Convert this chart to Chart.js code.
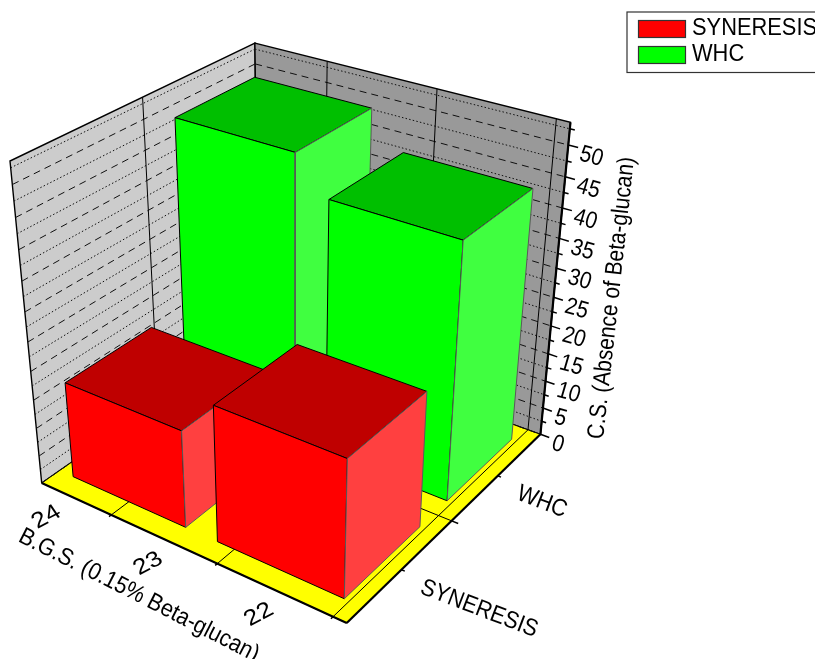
<!DOCTYPE html>
<html>
<head>
<meta charset="utf-8">
<title>C.S. bars</title>
<script src="https://cdn.jsdelivr.net/npm/chart.js@4"></script>
<style>
    html, body { margin: 0; padding: 0; background: #fff; overflow: hidden; }
    canvas { display: block; }
</style>
</head>
<body>
<canvas id="barChart" width="815" height="659"></canvas>
<script>
const categoryLabels = ['24', '23', '22'];
const seriesLabels = ['SYNERESIS', 'WHC'];
const syneresisValues = [17, 23.5];
const whcValues = [49.6, 43.8];
const zTicks = [0, 5, 10, 15, 20, 25, 30, 35, 40, 45, 50];
const zMinorTicks = [2.5, 7.5, 12.5, 17.5, 22.5, 27.5, 32.5, 37.5, 42.5, 47.5, 52.5];
const zMax = 53.5;

const FONT = '24px "Liberation Sans", Arial, sans-serif';

// camera: unit box (u along B.G.S., v along series, w up) to page pixels
function project(u, v, w) {
    const d = 1 - 0.114 * u + 0.16 * v - 0.1126 * w;
    return {
        x: (41.7 + 265.5 * u + 258.1 * v - 32.83 * w) / d,
        y: (483 + 69 * u - 97.7 * v - 340.13 * w) / d
    };
}

const datasets = [];

function polygon(corners, fillColor, edgeColor, width) {
    const pts = corners.map(c => project(c[0], c[1], c[2]));
    pts.push(pts[0]);
    datasets.push({
        data: pts,
        showLine: true,
        fill: 'shape',
        backgroundColor: fillColor,
        borderColor: edgeColor,
        borderWidth: width || 1,
        pointRadius: 0
    });
}

function segment(a, b, color, width, dash) {
    datasets.push({
        data: [project(a[0], a[1], a[2]), project(b[0], b[1], b[2])],
        showLine: true,
        fill: false,
        borderColor: color || '#000',
        borderWidth: width || 1,
        borderDash: dash || [],
        pointRadius: 0
    });
}

// walls and floor
polygon([[0, 0, 0], [0, 1, 0], [0, 1, 1], [0, 0, 1]], '#cccccc', '#000', 1.4);
polygon([[0, 1, 0], [1, 1, 0], [1, 1, 1], [0, 1, 1]], '#999999', '#000', 1.4);
polygon([[0, 0, 0], [1, 0, 0], [1, 1, 0], [0, 1, 0]], '#ffff00', '#000');

// grid on the walls
const DASHED = [7, 5];
const DOTTED = [1.5, 2.2];
zTicks.concat(zMinorTicks).forEach(t => {
    const w = t / zMax;
    const dash = zMinorTicks.includes(t) ? DOTTED : DASHED;
    segment([0, 0, w], [0, 1, w], '#111', 1, dash);
    segment([0, 1, w], [1, 1, w], '#111', 1, dash);
});

const xTickFirst = 0.25;
const xTickStep = 0.355;
const xTickAt = categoryLabels.map((_, i) => xTickFirst + i * xTickStep);
xTickAt.forEach(u => {
    segment([u, 1, 0], [u, 1, 1]);
    segment([u, 0, 0], [u, 1, 0]);
    segment([u, 0, 0], [u, -0.009, 0], '#000', 1.5);
});
segment([0, 0.5, 0], [0, 0.5, 1]);
segment([0, 0.5, 0], [1, 0.5, 0]);

// boxes, back row first
const slotStart = [0.05, 0.55];
const slotWidth = 0.395;

function box(i, v0, v1, value, front, top, side) {
    const u0 = slotStart[i], u1 = u0 + slotWidth, w = value / zMax;
    polygon([[u0, v0, w], [u1, v0, w], [u1, v1, w], [u0, v1, w]], top, '#000');
    polygon([[u0, v0, 0], [u1, v0, 0], [u1, v0, w], [u0, v0, w]], front, '#000');
    polygon([[u1, v0, 0], [u1, v1, 0], [u1, v1, w], [u1, v0, w]], side, '#5a5a5a');
}

whcValues.forEach((val, i) => box(i, 0.57, 0.93, val, '#00ff00', '#00bf00', '#40ff40'));
syneresisValues.forEach((val, i) => box(i, 0.072, 0.43, val, '#ff0000', '#bf0000', '#ff4040'));

// axes and their ticks
segment([0, 0, 0], [1, 0, 0], '#000', 2.2);
segment([1, 0, 0], [1, 1, 0], '#000', 2.2);
segment([1, 1, 0], [1, 1, 1], '#000', 2.2);
[0.25, 0.5, 0.75].forEach((v, i) => {
    segment([1, v, 0], [1 + (i === 1 ? 0.02 : 0.01), v, 0], '#000', 1.5);
});
zTicks.forEach(t => segment([1, 1, t / zMax], [1.028, 1, t / zMax], '#000', 1.5));
zMinorTicks.forEach(t => segment([1, 1, t / zMax], [1.014, 1, t / zMax], '#000', 1.5));

datasets.forEach((d, i) => { d.order = datasets.length - i; });

function skewText(ctx, str, x, y, base, down, align, baseline) {
    ctx.save();
    ctx.transform(base[0], base[1], down[0], down[1], x, y);
    ctx.font = FONT;
    ctx.fillStyle = '#000';
    ctx.textAlign = align || 'center';
    ctx.textBaseline = baseline || 'middle';
    ctx.fillText(str, 0, 0);
    ctx.restore();
}

function rotatedText(ctx, str, x, y, deg, squeeze, align) {
    const r = deg * Math.PI / 180;
    skewText(ctx, str, x, y, [squeeze * Math.cos(r), squeeze * Math.sin(r)], [-Math.sin(r), Math.cos(r)], align);
}

const axisText = {
    id: 'axisText',
    afterDraw(chart) {
        const ctx = chart.ctx;
        // category labels lie on the floor, reading up the series axis
        categoryLabels.forEach((label, i) => {
            const p = project(xTickAt[i] - xTickStep / 2, 0, 0);
            skewText(ctx, label, p.x - 15, p.y + 25, [0.95, -0.5], [0.53, 0.78]);
        });
        rotatedText(ctx, 'B.G.S. (0.15% Beta-glucan)', 139, 595.5, 27, 0.9);

        seriesLabels.forEach((label, i) => {
            const p = project(1, i === 0 ? 0.25 : 0.75, 0);
            rotatedText(ctx, label, p.x + 20, p.y + 17, 21, 0.9, 'left');
        });

        zTicks.forEach(t => {
            const p = project(1, 1, t / zMax);
            skewText(ctx, String(t), p.x + 10, p.y + 15, [0.84, 0.23], [-0.28, 0.95], 'left', 'alphabetic');
        });
        rotatedText(ctx, 'C.S. (Absence of Beta-glucan)', 612, 298, -83.7, 0.875);

        // legend box runs off the right side of the page
        ctx.save();
        ctx.strokeStyle = '#333';
        ctx.lineWidth = 1.2;
        ctx.strokeRect(627, 12, 200, 60.5);
        const swatches = ['#ff0000', '#00ff00'];
        seriesLabels.forEach((label, i) => {
            const top = 20.5 + i * 26;
            ctx.fillStyle = swatches[i];
            ctx.fillRect(638.5, top, 47, 17);
            ctx.strokeRect(638.5, top, 47, 17);
            skewText(ctx, label, 692, top + 7.5, [0.91, 0], [0, 1], 'left');
        });
        ctx.restore();
    }
};

document.addEventListener('DOMContentLoaded', () => {
    new Chart(document.getElementById('barChart').getContext('2d'), {
        type: 'scatter',
        data: { datasets },
        plugins: [axisText],
        options: {
            responsive: false,
            animation: false,
            events: [],
            layout: { padding: 0 },
            elements: { line: { tension: 0, borderCapStyle: 'butt', borderJoinStyle: 'miter' } },
            scales: {
                x: { type: 'linear', display: false, min: 0, max: 815 },
                y: { type: 'linear', display: false, min: 0, max: 659, reverse: true }
            },
            plugins: { legend: { display: false }, tooltip: { enabled: false } }
        }
    });
});
</script>
</body>
</html>
